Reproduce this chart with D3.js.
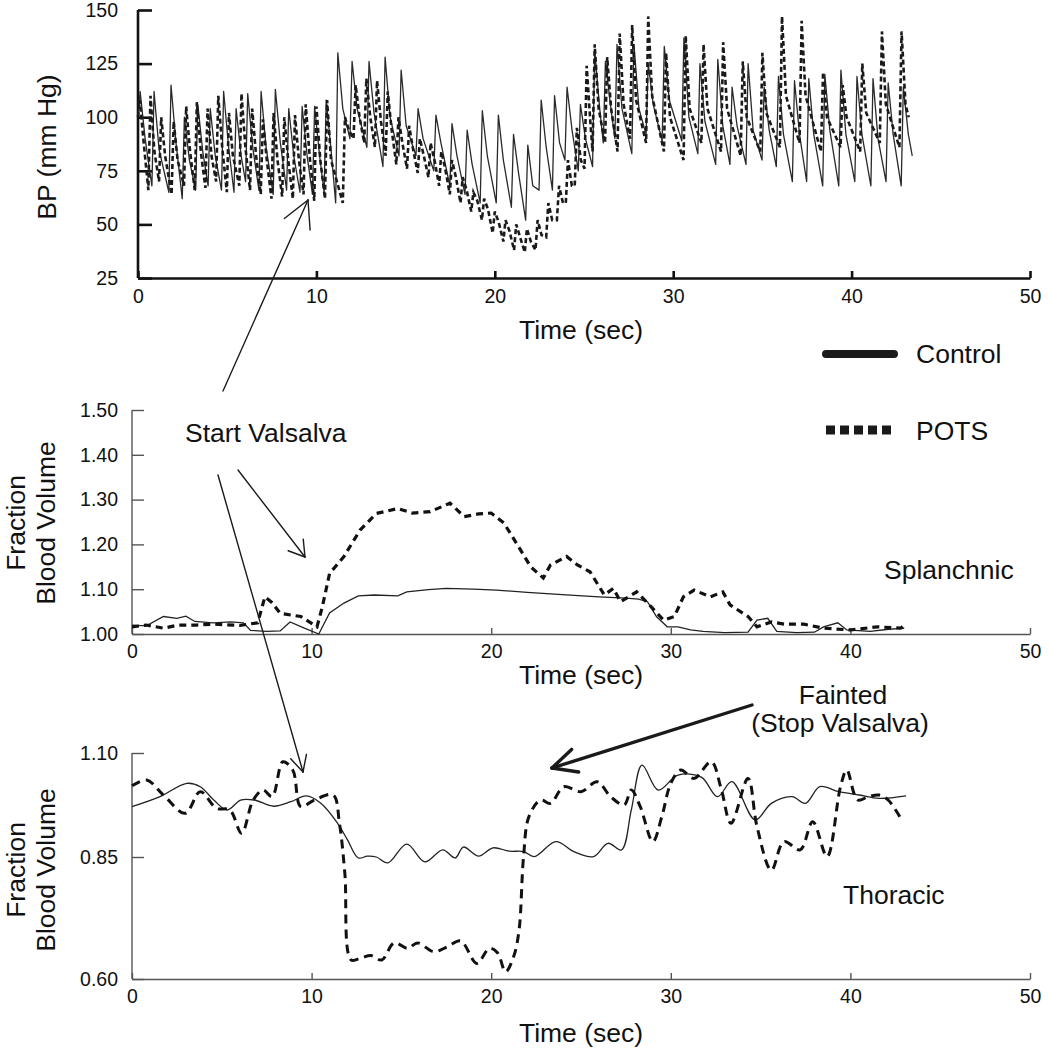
<!DOCTYPE html>
<html><head><meta charset="utf-8">
<script src="https://cdn.jsdelivr.net/npm/d3@7"></script>
<style>
body{margin:0;background:#fff}
svg{display:block}
text{font-family:"Liberation Sans",Arial,Helvetica,sans-serif;fill:#111}
</style>
</head><body>
<svg id="c" width="1050" height="1050"></svg>
<script>
// ---------- DATA ----------
const timeTicks = [0, 10, 20, 30, 40, 50];
const bpTicks = [25, 50, 75, 100, 125, 150];
const splTicks = [1.00, 1.10, 1.20, 1.30, 1.40, 1.50];
const thorTicks = [0.60, 0.85, 1.10];

// Blood pressure, Control: beat times (s), systolic peaks, post-peak shoulder, preceding diastolic troughs (mm Hg)
const ctrlBeatT = [0.12,0.9,1.85,2.6,3.35,4.05,4.8,5.5,6.15,6.9,7.7,8.45,9.2,9.9,10.55,11.2,12.0,12.95,13.85,14.75,15.7,16.7,17.6,18.45,19.3,20.2,21.05,21.85,22.6,23.35,24.05,24.8,25.6,26.2,26.85,27.8,28.6,29.5,30.6,31.5,32.5,33.3,34.2,35.1,35.9,36.8,37.6,38.5,39.4,40.3,41.2,42.05,42.9];
const ctrlPeak = [112,112,115,100,106,104,112,104,111,112,113,104,105,105,108,130,126,126,128,122,104,101,97,94,103,101,92,87,108,110,114,106,131,126,134,134,125,133,137,125,127,114,125,114,119,117,118,120,122,119,118,116,114];
const ctrlShoulder = [90,85,88,80,84,82,86,82,86,86,88,82,82,82,84,104,104,102,100,96,90,88,82,78,82,80,74,68,86,88,94,90,104,106,104,104,106,108,100,98,96,96,94,94,92,92,92,94,92,92,90,92,92];
const ctrlTrough = [100,68,65,62,66,68,66,65,70,66,64,66,65,64,65,60,90,86,77,82,82,75,68,64,60,60,58,52,66,66,80,75,77,88,90,83,92,89,89,83,78,78,78,80,77,70,70,68,68,70,68,70,68];
const ctrlEnd = [43.4, 82];

// Blood pressure, POTS
const potsBeatT = [0.1,0.7,1.3,2.0,2.7,3.3,3.9,4.5,5.1,5.8,6.4,7.0,7.6,8.2,8.8,9.4,10.0,10.6,11.6,12.2,12.8,13.4,14.0,14.6,15.2,15.8,16.4,17.0,17.6,18.2,18.8,19.4,20.0,20.6,21.2,21.8,22.4,23.0,23.6,24.1,24.6,25.15,25.6,26.3,27.0,27.7,28.6,29.6,30.7,31.7,32.8,33.9,35.0,36.1,37.2,38.4,39.5,40.6,41.7,42.8];
const potsPeak = [108,110,100,98,105,107,104,110,102,111,104,99,102,100,101,106,105,108,100,115,118,117,112,100,96,90,88,84,80,72,65,62,56,52,50,48,52,60,68,80,95,124,134,128,139,143,147,130,138,134,135,126,130,147,145,121,115,125,140,140];
const potsShoulder = [88,84,82,80,84,84,82,86,82,86,82,80,80,80,80,82,80,80,94,100,100,98,94,88,85,82,80,76,72,66,61,57,51,47,44,42,45,52,60,68,80,96,104,104,106,108,110,100,104,104,104,100,102,110,110,100,100,102,106,106];
const potsTrough = [100,66,70,64,68,66,67,70,65,68,66,64,62,63,62,64,61,62,60,90,88,86,82,78,76,74,72,68,64,60,56,52,46,42,38,37,38,44,52,60,68,76,84,88,84,90,88,84,80,88,84,82,84,86,88,84,86,84,88,86];
const potsEnd = [43.2, 100];

// Splanchnic fraction blood volume [time, value]
const splCtrl = [[0,1.02],[0.8,1.018],[1.75,1.039],[2.5,1.035],[3.0,1.04],[3.5,1.028],[4.5,1.025],[5.5,1.027],[6.2,1.025],[6.6,1.008],[7.5,1.006],[8.25,1.007],[8.8,1.027],[9.6,1.013],[10.4,1.0],[11.0,1.047],[11.8,1.069],[12.6,1.085],[13.5,1.087],[14.8,1.085],[15.3,1.094],[16.5,1.099],[17.5,1.102],[19.0,1.1],[20.3,1.098],[22,1.093],[24.4,1.087],[26,1.083],[27.5,1.08],[28.2,1.078],[28.7,1.072],[29.2,1.039],[29.8,1.016],[30.4,1.016],[31.1,1.009],[31.8,1.006],[33,1.003],[34.3,1.004],[34.8,1.031],[35.4,1.035],[35.9,1.006],[37,1.003],[38.0,1.004],[38.5,1.016],[39.3,1.025],[39.8,1.009],[41.1,1.006],[42,1.01],[43.0,1.013]];
const splPots = [[0,1.016],[0.8,1.02],[1.75,1.013],[2.6,1.02],[3.6,1.02],[4.5,1.022],[6.0,1.019],[7.0,1.025],[7.4,1.083],[7.8,1.07],[8.25,1.046],[9.4,1.039],[10.3,1.016],[10.6,1.061],[11.0,1.135],[11.8,1.173],[12.7,1.232],[13.6,1.269],[14.8,1.28],[15.6,1.27],[16.6,1.273],[17.7,1.292],[18.5,1.262],[19.3,1.268],[20.0,1.27],[20.7,1.248],[21.4,1.203],[22.2,1.15],[22.9,1.125],[23.3,1.154],[24.2,1.173],[24.8,1.154],[25.5,1.139],[26.3,1.087],[26.8,1.102],[27.2,1.072],[28.1,1.094],[28.9,1.061],[29.6,1.031],[30.2,1.039],[30.7,1.083],[31.3,1.098],[32.2,1.083],[32.9,1.094],[33.3,1.065],[34.3,1.039],[34.8,1.016],[35.6,1.027],[36.3,1.022],[37.4,1.022],[38.5,1.013],[40.0,1.009],[41.5,1.016],[42.8,1.013],[43.1,1.022]];

// Thoracic fraction blood volume [time, value]
const thorCtrl = [[0,0.971],[1.56,0.995],[3.05,1.027],[3.8,1.019],[4.55,0.987],[5.3,0.963],[6.05,0.987],[6.8,0.987],[7.9,0.972],[8.85,0.983],[9.7,0.997],[10.5,0.98],[11.45,0.931],[12.0,0.891],[12.6,0.848],[13.1,0.852],[13.6,0.85],[14.25,0.838],[15.3,0.881],[16.3,0.84],[17.3,0.867],[18.0,0.848],[18.45,0.874],[19.3,0.852],[20.1,0.872],[21.0,0.864],[21.8,0.863],[22.4,0.851],[23.6,0.887],[24.6,0.863],[25.7,0.851],[26.5,0.883],[27.25,0.867],[27.8,0.963],[28.4,1.071],[29.3,1.011],[30.4,1.047],[31.7,1.042],[32.6,0.995],[33.4,1.031],[34.7,0.939],[35.6,0.979],[36.75,0.995],[37.5,0.979],[38.3,1.019],[39.35,1.007],[40.5,0.999],[41.6,0.991],[43.1,0.997]];
const thorPots = [[0,1.021],[0.82,1.035],[1.75,0.999],[2.96,0.955],[3.8,1.007],[4.7,0.967],[5.45,0.963],[6.1,0.907],[6.75,0.987],[7.3,1.011],[7.8,0.995],[8.4,1.079],[8.95,1.059],[9.4,0.971],[10.15,0.987],[11.2,0.999],[11.55,0.931],[11.85,0.817],[12.2,0.639],[12.75,0.643],[13.3,0.648],[13.9,0.639],[14.6,0.674],[15.35,0.663],[15.9,0.674],[16.8,0.656],[17.55,0.666],[18.3,0.678],[19.2,0.632],[19.9,0.663],[20.35,0.654],[20.8,0.615],[21.25,0.646],[21.55,0.70],[21.8,0.85],[22.1,0.947],[22.75,0.987],[23.3,0.979],[24.05,1.019],[25.0,1.007],[25.9,1.031],[26.65,0.995],[27.4,0.975],[27.8,1.011],[28.3,0.971],[29.0,0.887],[29.5,0.947],[30.0,1.027],[30.55,1.059],[31.3,1.039],[32.25,1.079],[32.8,1.015],[33.35,0.931],[34.3,1.039],[34.8,0.923],[35.6,0.823],[36.3,0.887],[37.2,0.867],[37.9,0.935],[38.7,0.851],[39.45,1.019],[39.8,1.059],[40.4,0.987],[41.0,0.995],[41.6,0.999],[42.1,0.987],[42.75,0.947]];

// ---------- DRAW ----------
const svg = d3.select("#c");
const INK = "#1a1a1a";
const TXT = 26.5;

// waveform vertices from beat tables: trough just before each systolic peak, then a shoulder
function beatPoints(T, P, S, Tr, end, sOff) {
  const pts = [];
  T.forEach((t, i) => {
    pts.push([Math.max(0, t - 0.12), Tr[i]]);
    pts.push([t, P[i]]);
    pts.push([t + sOff, S[i]]);
  });
  pts.push(end);
  return pts;
}

function axes(g, x, y, xt, yt, fmt, opts) {
  const ax = g.append("g").attr("transform", `translate(0,${y.range()[0]})`)
    .call(d3.axisBottom(x).tickValues(xt).tickSize(-opts.xtick).tickSizeOuter(0).tickPadding(opts.xpad).tickFormat(d3.format("d")));
  const ay = g.append("g").attr("transform", `translate(${x.range()[0]},0)`)
    .call(d3.axisLeft(y).tickValues(yt).tickSize(-opts.ytick).tickSizeOuter(0).tickPadding(opts.ypad).tickFormat(fmt));
  [ax, ay].forEach(a => {
    a.select(".domain").attr("stroke", opts.color).attr("stroke-width", opts.w);
    a.selectAll(".tick line").attr("stroke", opts.color).attr("stroke-width", opts.w);
    a.selectAll(".tick text").attr("font-size", 19.5).attr("fill", "#111")
      .attr("font-family", '"Liberation Sans",Arial,sans-serif');
  });
  ay.select(".domain").attr("d", `M0,${y(yt[0])}V${y(yt[yt.length-1])}`);
}

// ---- Top: BP ----
const xTop = d3.scaleLinear().domain([0, 50]).range([138, 1030]);
const yTop = d3.scaleLinear().domain([25, 150]).range([278, 10]);
const gTop = svg.append("g");
axes(gTop, xTop, yTop, timeTicks, bpTicks, d3.format("d"), {xtick: 7, ytick: 14, xpad: 11, ypad: 20, color: "#111", w: 2.6});
const lineTop = d3.line().x(d => xTop(d[0])).y(d => yTop(d[1]));
gTop.append("path").attr("d", lineTop(beatPoints(ctrlBeatT, ctrlPeak, ctrlShoulder, ctrlTrough, ctrlEnd, 0.28)))
  .attr("fill", "none").attr("stroke", "#2a2a2a").attr("stroke-width", 1.3).attr("stroke-linejoin", "round");
gTop.append("path").attr("d", lineTop(beatPoints(potsBeatT, potsPeak, potsShoulder, potsTrough, potsEnd, 0.22)))
  .attr("fill", "none").attr("stroke", "#1a1a1a").attr("stroke-width", 2.6).attr("stroke-dasharray", "5,3");
svg.append("text").attr("transform", "translate(56,147) rotate(-90)").attr("text-anchor", "middle")
  .attr("font-size", TXT).text("BP (mm Hg)");
svg.append("text").attr("x", 581).attr("y", 339).attr("text-anchor", "middle").attr("font-size", TXT).text("Time (sec)");

// ---- Middle: Splanchnic ----
const xMid = d3.scaleLinear().domain([0, 50]).range([132, 1030]);
const yMid = d3.scaleLinear().domain([1.0, 1.5]).range([634, 410]);
const gMid = svg.append("g");
axes(gMid, xMid, yMid, timeTicks, splTicks, d3.format(".2f"), {xtick: 6, ytick: 12, xpad: 10, ypad: 14, color: "#555", w: 1.4});
const lineMid = d3.line().x(d => xMid(d[0])).y(d => yMid(d[1]));
gMid.append("path").attr("d", lineMid(splCtrl)).attr("fill", "none").attr("stroke", "#222").attr("stroke-width", 1.3);
gMid.append("path").attr("d", lineMid(splPots)).attr("fill", "none").attr("stroke", "#111").attr("stroke-width", 3.2).attr("stroke-dasharray", "7,5");
svg.append("text").attr("transform", "translate(25,523) rotate(-90)").attr("text-anchor", "middle").attr("font-size", TXT).text("Fraction");
svg.append("text").attr("transform", "translate(55,523) rotate(-90)").attr("text-anchor", "middle").attr("font-size", TXT).text("Blood Volume");
svg.append("text").attr("x", 581).attr("y", 684).attr("text-anchor", "middle").attr("font-size", TXT).text("Time (sec)");

// ---- Bottom: Thoracic ----
const xBot = d3.scaleLinear().domain([0, 50]).range([132, 1030]);
const yBot = d3.scaleLinear().domain([0.60, 0.85, 1.10]).range([979, 857, 753]);
const gBot = svg.append("g");
axes(gBot, xBot, yBot, timeTicks, thorTicks, d3.format(".2f"), {xtick: 6, ytick: 12, xpad: 10, ypad: 14, color: "#555", w: 1.4});
const lineBot = d3.line().x(d => xBot(d[0])).y(d => yBot(d[1])).curve(d3.curveCatmullRom.alpha(0.5));
gBot.append("path").attr("d", lineBot(thorCtrl)).attr("fill", "none").attr("stroke", "#222").attr("stroke-width", 1.3);
gBot.append("path").attr("d", lineBot(thorPots)).attr("fill", "none").attr("stroke", "#111").attr("stroke-width", 3).attr("stroke-dasharray", "9,6");
svg.append("text").attr("transform", "translate(25,870) rotate(-90)").attr("text-anchor", "middle").attr("font-size", TXT).text("Fraction");
svg.append("text").attr("transform", "translate(55,870) rotate(-90)").attr("text-anchor", "middle").attr("font-size", TXT).text("Blood Volume");
svg.append("text").attr("x", 581).attr("y", 1042).attr("text-anchor", "middle").attr("font-size", TXT).text("Time (sec)");

// ---- Legend ----
svg.append("line").attr("x1", 826).attr("x2", 894).attr("y1", 354).attr("y2", 354)
  .attr("stroke", INK).attr("stroke-width", 8).attr("stroke-linecap", "round");
svg.append("text").attr("x", 916).attr("y", 363).attr("font-size", TXT).text("Control");
svg.append("line").attr("x1", 826).attr("x2", 893).attr("y1", 430).attr("y2", 430)
  .attr("stroke", INK).attr("stroke-width", 9).attr("stroke-dasharray", "9,5");
svg.append("text").attr("x", 916).attr("y", 440).attr("font-size", TXT).text("POTS");

// ---- Annotations ----
function arrow(tail, tip, len, ang, w) {
  const a = Math.atan2(tail[1] - tip[1], tail[0] - tip[0]);
  const g = svg.append("g").attr("stroke", INK).attr("stroke-width", w).attr("fill", "none").attr("stroke-linecap", "round");
  g.append("line").attr("x1", tail[0]).attr("y1", tail[1]).attr("x2", tip[0]).attr("y2", tip[1]);
  [-1, 1].forEach(s => {
    const b = a + s * ang * Math.PI / 180;
    g.append("line").attr("x1", tip[0]).attr("y1", tip[1])
      .attr("x2", tip[0] + len * Math.cos(b)).attr("y2", tip[1] + len * Math.sin(b));
  });
}
arrow([223, 391], [308, 200], 30, 28, 1.4);
arrow([238, 470], [305, 557], 18, 32, 1.4);
arrow([218, 475], [303, 772], 18, 27, 1.4);
arrow([752, 705], [552, 768], 27, 26, 3.4);

svg.append("text").attr("x", 185).attr("y", 442).attr("font-size", TXT).text("Start Valsalva");
svg.append("text").attr("x", 884).attr("y", 579).attr("font-size", TXT).text("Splanchnic");
svg.append("text").attr("x", 843).attr("y", 704).attr("text-anchor", "middle").attr("font-size", TXT).text("Fainted");
svg.append("text").attr("x", 840).attr("y", 732).attr("text-anchor", "middle").attr("font-size", TXT).text("(Stop Valsalva)");
svg.append("text").attr("x", 843).attr("y", 904).attr("font-size", TXT).text("Thoracic");
</script>
</body></html>
